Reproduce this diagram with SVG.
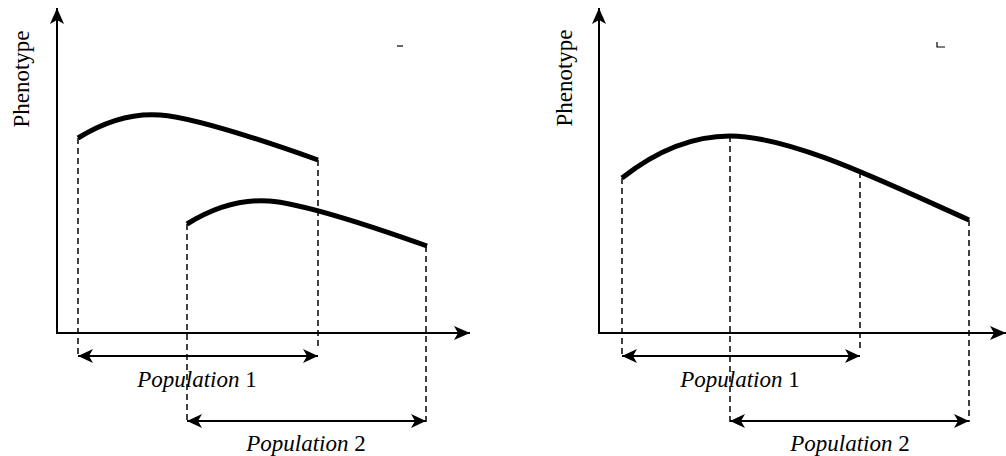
<svg xmlns="http://www.w3.org/2000/svg" width="1006" height="456" viewBox="0 0 1006 456">
<style>
.axis{fill:none;stroke:#000;stroke-width:2}
.curve{fill:none;stroke:#000;stroke-width:5;stroke-linecap:butt}
.dash{fill:none;stroke:#000;stroke-width:1.5;stroke-dasharray:6 4}
.span{fill:none;stroke:#000;stroke-width:2}
.mark{stroke:#000;stroke-width:1.2;fill:none}
text{font-family:'Liberation Serif','Times New Roman',serif !important;font-size:23px}
</style>
<defs>
<marker id="ah" viewBox="0 0 15 14" refX="15" refY="7" markerWidth="15" markerHeight="14" markerUnits="userSpaceOnUse" orient="auto-start-reverse">
<path d="M0,0 L15,7 L0,14 L4,7 Z" fill="#000"/>
</marker>
<marker id="axh" viewBox="0 0 16 14" refX="16" refY="7" markerWidth="16" markerHeight="14" markerUnits="userSpaceOnUse" orient="auto">
<path d="M0,0 L16,7 L0,14 L4,7 Z" fill="#000"/>
</marker>
</defs>
<rect width="1006" height="456" fill="#fff"/>

<g id="panel-a-axes">
<path class="axis" d="M57,333 L57,8" marker-end="url(#axh)"/>
<path class="axis" d="M56,333 L470,333" marker-end="url(#axh)"/>
<text style="font-family:'Liberation Serif',serif;font-size:23px" transform="translate(29,79) rotate(-90)" text-anchor="middle">Phenotype</text>
<path class="mark" d="M397,46 L403,46"/>
</g>
<g id="panel-a-curve1">
<path class="curve" d="M78,138 Q120,112 160,115 Q200,118 318,160"/>
</g>
<g id="panel-a-curve2">
<path class="curve" transform="translate(109,86)" d="M78,138 Q120,112 160,115 Q200,118 318,160"/>
</g>
<g id="panel-a-pop1">
<text style="font-family:'Liberation Serif',serif;font-size:23px" x="197" y="387" text-anchor="middle"><tspan style="font-style:italic">Population</tspan> 1</text>
</g>
<g id="panel-a-pop2">
<text style="font-family:'Liberation Serif',serif;font-size:23px" x="306" y="451" text-anchor="middle"><tspan style="font-style:italic">Population</tspan> 2</text>
</g>

<g id="panel-b-axes">
<path class="axis" d="M599,333 L599,8" marker-end="url(#axh)"/>
<path class="axis" d="M598,333 L1006,333" marker-end="url(#axh)"/>
<text style="font-family:'Liberation Serif',serif;font-size:23px" transform="translate(572,78) rotate(-90)" text-anchor="middle">Phenotype</text>
<path class="mark" d="M937,42 L937,47 L945,47"/>
</g>
<g id="panel-b-curve">
<path class="curve" d="M622,178 C660,148 695,136 730,136 C790,136 880,180 969,220"/>
</g>
<g id="panel-b-pop1">
<text style="font-family:'Liberation Serif',serif;font-size:23px" x="740" y="387" text-anchor="middle"><tspan style="font-style:italic">Population</tspan> 1</text>
</g>
<g id="panel-b-pop2">
<text style="font-family:'Liberation Serif',serif;font-size:23px" x="850" y="451" text-anchor="middle"><tspan style="font-style:italic">Population</tspan> 2</text>
</g>

<g id="connectors">
<path class="dash" d="M78,138 L78,356"/>
<path class="dash" d="M318,160 L318,349"/>
<path class="dash" d="M187,224 L187,422"/>
<path class="dash" d="M426,246 L426,422"/>
<path class="span" d="M78,356 L318,356" marker-start="url(#ah)" marker-end="url(#ah)"/>
<path class="span" d="M187,421 L426,421" marker-start="url(#ah)" marker-end="url(#ah)"/>

<path class="dash" d="M622,178 L622,356"/>
<path class="dash" d="M730,136 L730,422"/>
<path class="dash" d="M860,172 L860,350"/>
<path class="dash" d="M969,220 L969,422"/>
<path class="span" d="M622,356 L860,356" marker-start="url(#ah)" marker-end="url(#ah)"/>
<path class="span" d="M730,421 L969,421" marker-start="url(#ah)" marker-end="url(#ah)"/>
</g>
</svg>
